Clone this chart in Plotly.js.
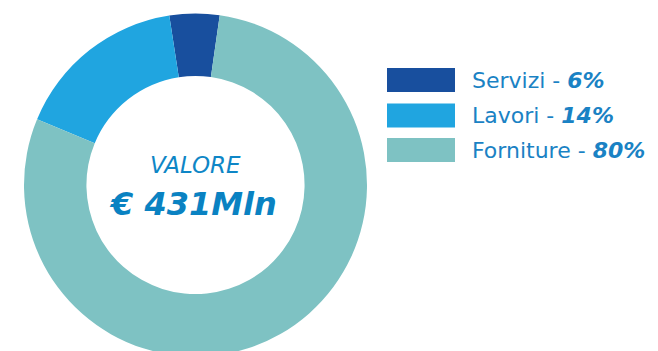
<!DOCTYPE html>
<html>
<head>
<meta charset="utf-8">
<script src="https://cdn.plot.ly/plotly-3.0.1.min.js"></script>
<style>
html,body{margin:0;padding:0;overflow:hidden;background:#fff;}
#chart{width:658px;height:370px;}
</style>
</head>
<body>
<div id="chart"></div>
<script>
var categories = ["Servizi", "Lavori", "Forniture"];
var values = [4.7, 16.3, 79.0];
var legendPct = ["6%", "14%", "80%"];
var colors = ["#184f9e", "#20a5e0", "#7ec2c3"];
var centerTitle = "VALORE";
var centerValue = "€ 431Mln";

var H = 370, W = 658;
function py(p){ return 1 - p / H; }
function px(p){ return p / W; }
var FONT = "'DejaVu Sans', sans-serif";

var trace = {
  type: "pie",
  labels: categories,
  values: values,
  hole: 0.636,
  sort: false,
  direction: "counterclockwise",
  rotation: -8.8,
  textinfo: "none",
  hoverinfo: "label+percent",
  marker: {colors: colors, line: {width: 0}},
  domain: {x: [px(24), px(367)], y: [py(356.5), py(13.5)]},
  showlegend: false
};

var shapes = [];
var annotations = [];
var rowY = [80, 115.5, 150];
var textColor = "#1a82c4";
for (var i = 0; i < categories.length; i++) {
  shapes.push({
    type: "rect", xref: "paper", yref: "paper",
    x0: px(387), x1: px(455), y0: py(rowY[i] - 12), y1: py(rowY[i] + 12),
    fillcolor: colors[i], line: {width: 0}
  });
  annotations.push({
    xref: "paper", yref: "paper", x: px(470), y: py(rowY[i]),
    xanchor: "left", yanchor: "middle", showarrow: false,
    text: categories[i] + " - <b><i>" + legendPct[i] + "</i></b>",
    font: {family: FONT, size: 22, color: textColor}
  });
}
annotations.push({
  xref: "paper", yref: "paper", x: px(195), y: py(165),
  xanchor: "center", yanchor: "middle", showarrow: false,
  text: "<i>" + centerTitle + "</i>",
  font: {family: FONT, size: 23, color: "#0e86c6"}
});
annotations.push({
  xref: "paper", yref: "paper", x: px(193), y: py(204),
  xanchor: "center", yanchor: "middle", showarrow: false,
  text: "<b><i>" + centerValue + "</i></b>",
  font: {family: FONT, size: 32, color: "#0a82c2"}
});

var layout = {
  width: W, height: H,
  margin: {l: 0, r: 0, t: 0, b: 0},
  paper_bgcolor: "#ffffff",
  plot_bgcolor: "#ffffff",
  shapes: shapes,
  annotations: annotations
};

Plotly.newPlot("chart", [trace], layout, {displayModeBar: false, staticPlot: true});
</script>
</body>
</html>
